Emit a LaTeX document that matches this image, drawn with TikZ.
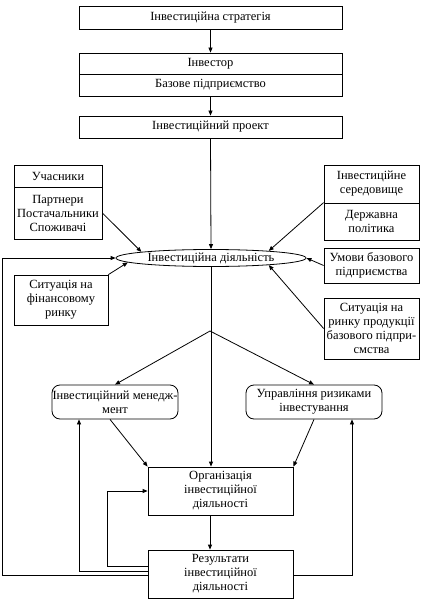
\documentclass[tikz,border=0pt]{standalone}
\usepackage{fontspec}
\setmainfont{Liberation Serif}
\usetikzlibrary{shapes.geometric,arrows.meta}
\begin{document}
\begin{tikzpicture}[x=1pt, y=-1pt, font=\fontsize{12.5}{14}\selectfont, line width=0.8pt,
    box/.style={rectangle, draw, inner sep=0pt, align=center},
    rbox/.style={box, rounded corners=8pt},
    arr/.style={-{Triangle[length=5pt,width=4pt]}}]
      \useasboundingbox (0,0) rectangle (422,601);
      \node[box, minimum width=263, minimum height=23] (1) at (210.5,17.5) {Інвестиційна стратегія};
      \node[box, minimum width=263, minimum height=21] (2) at (210.5,63.5) {Інвестор};
      \node[box, minimum width=263, minimum height=22] (3) at (210.5,85) {Базове підприємство};
      \node[box, minimum width=263, minimum height=22] (4) at (210.5,127) {Інвестиційний проект};
      \node[box, minimum width=88, minimum height=22] (5) at (58,176) {Учасники};
      \node[box, minimum width=88, minimum height=52] (6) at (58,213) {Партнери\\Постачальники\\Споживачі};
      \node[box, minimum width=95, minimum height=38] (7) at (371.5,184) {Інвестиційне\\середовище};
      \node[box, minimum width=95, minimum height=37] (8) at (371.5,221.5) {Державна\\політика};
      \node[ellipse, draw, inner sep=0pt, minimum width=190, minimum height=17] (9) at (211,258) {Інвестиційна діяльність};
      \node[box, minimum width=95, minimum height=35] (10) at (371.5,265.5) {Умови базового\\підприємства};
      \node[box, minimum width=94, minimum height=50] (11) at (61,300) {Ситуація на\\фінансовому\\ринку};
      \node[box, minimum width=95, minimum height=61] (12) at (371.5,328.5) {Ситуація на\\ринку продукції\\базового підпри-\\смства};
      \node[rbox, minimum width=126, minimum height=34] (13) at (115,402) {Інвестиційний менедж-\\мент};
      \node[rbox, minimum width=136, minimum height=34] (14) at (314,402) {Управління ризиками\\інвестування};
      \node[box, minimum width=145, minimum height=48] (15) at (220.5,491) {Організація\\інвестиційної\\діяльності};
      \node[box, minimum width=145, minimum height=48] (16) at (220.5,574) {Результати\\інвестиційної\\діяльності};
      \coordinate (b) at (210,331);
      \foreach \source/\dest in {1.south/2.north, 3.south/4.north, 6.east/9.175, 11.north east/9.183,
          8.north west/9.7, 10.west/9.east, 12.west/9.-7, b/13.north, b/14.north, 14.south/15.north east}
        \draw[arr] (\source) -- (\dest);
      \draw[arr] (4.south) -- (9.north);
      \draw[arr] (9.south) -- (9.south |- 15.north);
      \draw[arr] ([xshift=-5]13.south) -- (15.north west);
      \draw[arr] ([xshift=-10.5]15.south) -- ([xshift=-10.5]16.north);
      \draw[arr] ([yshift=8]16.west) -- ++(-40,0) |- (15.west);
      \draw[arr] ([yshift=3]16.west) -| ([xshift=-36]13.south);
      \draw[arr] ([yshift=-1]16.east) -| ([xshift=38]14.south);
      \draw[arr] ([yshift=-1]16.west) -| ([xshift=-113]9.west) -- (9.west);
\end{tikzpicture}
\end{document}
